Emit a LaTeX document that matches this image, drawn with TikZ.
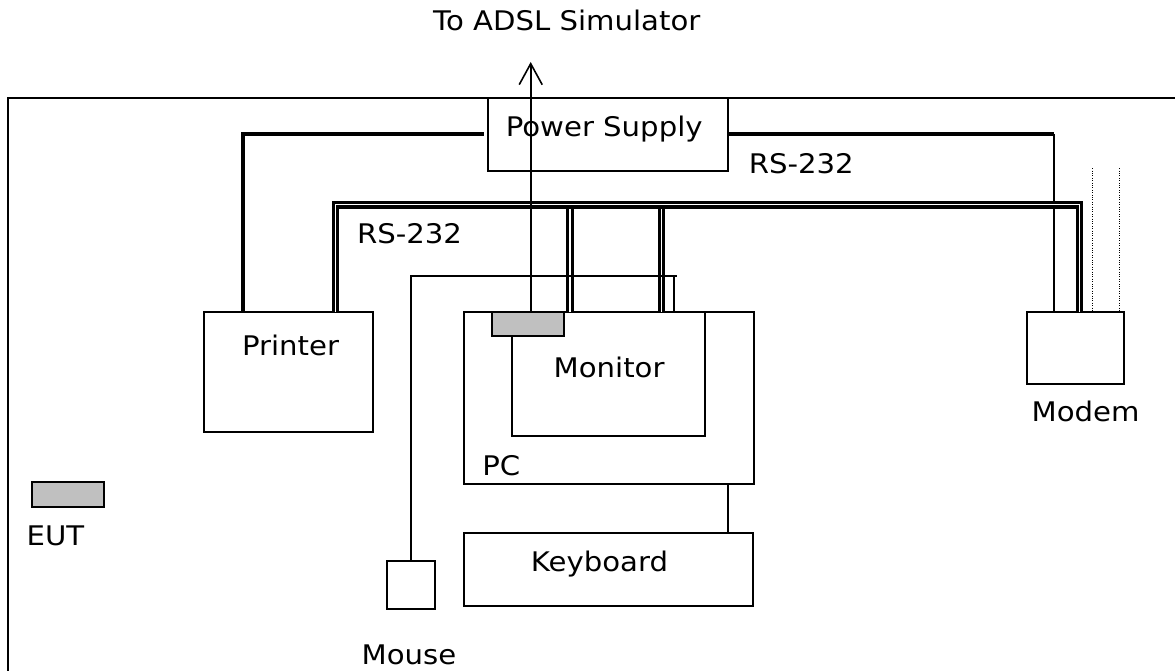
\documentclass[tikz,border=0pt]{standalone}
\usepackage{fontspec}
\newfontfamily\lbl{DejaVu Sans}[FakeStretch=1.08]
\usetikzlibrary{arrows.meta}
\definecolor{eutgrey}{RGB}{192,192,192}
\begin{document}
\begin{tikzpicture}[x=1pt,y=-1pt,
  box/.style={draw, line width=2pt, inner sep=0pt, outer sep=0pt, anchor=north west},
  lab/.style={inner sep=0pt, anchor=base west, text depth=0pt, font=\lbl\fontsize{27}{30}\selectfont},
  thincable/.style={line width=1.6pt},
  powercable/.style={line width=3.8pt},
  serialcable/.style={double, line width=3.2pt, double distance=1.4pt},
  dotcable/.style={line width=1pt, dash pattern=on 1pt off 1.4pt}]
\useasboundingbox (0,0) rectangle (1175,671);
\clip (0,0) rectangle (1175,671);
% frame
\draw[line width=2pt] (1190,97.6) -- (7.5,97.6) -- (7.5,700);
% boxes
\node[box, minimum width=240pt, minimum height=73.4pt] (ps) at (488,97.6) {};
\node[box, minimum width=168.7pt, minimum height=120pt] (printer) at (204,311.7) {};
\node[box, minimum width=289.5pt, minimum height=172pt] (pc) at (464,311.7) {};
\node[box, minimum width=192.7pt, minimum height=124pt] (monitor) at (512,311.7) {};
\node[box, minimum width=97pt, minimum height=72.3pt] (modem) at (1027,311.7) {};
\node[box, minimum width=289pt, minimum height=73.2pt] (keyboard) at (464,532.5) {};
\node[box, minimum width=48.6pt, minimum height=48.6pt] (mouse) at (386.7,560.7) {};
% coordinates
\coordinate (bus) at (0,204.7);
\coordinate (s1) at ([xshift=131.5pt]printer.north west);
\coordinate (s2) at ([xshift=106pt]pc.north west);
\coordinate (s3) at ([xshift=197.5pt]pc.north west);
\coordinate (s4) at ([xshift=52.5pt]modem.north west);
\coordinate (m1) at ([xshift=27pt]modem.north west);
\coordinate (p1) at ([xshift=38.7pt]printer.north west);
\coordinate (mcor) at (674,275.7);
\coordinate (adsl) at (530.7,62);
\coordinate (d1) at (1092.5,168.3);
\coordinate (d2) at (1119,168.3);
% power cables
\draw[powercable] ([xshift=-4.5pt]ps.west) -| (p1);
\draw[powercable] (ps.east) -- (ps.east -| m1) coordinate (m1top);
\draw[thincable] (m1top) -- (m1);
% serial cables
\draw[serialcable] (s2) -- (s2 |- bus);
\draw[serialcable] (s3) -- (s3 |- bus);
\draw[serialcable] (s1) |- (bus -| s4) -- (s4);
% mouse and keyboard cables
\draw[thincable] (mouse.north) |- ([xshift=3pt]mcor);
\draw[thincable] (mcor) -- (mcor |- pc.north);
\draw[thincable] ([xshift=264pt]pc.south west) -- ([xshift=264pt]keyboard.north west);
% dotted lines
\draw[dotcable] (d1) -- (d1 |- modem.north);
\draw[dotcable] (d2) -- (d2 |- modem.north);
% EUT boxes
\node[box, fill=eutgrey, minimum width=72.3pt, minimum height=24.3pt] (eutpc) at (491.7,311.7) {};
\node[box, fill=eutgrey, minimum width=72.6pt, minimum height=25pt] (eut) at (31.7,481.7) {};
% ADSL line
\draw[thincable, -{Straight Barb[length=21pt,width=23pt]}] (adsl |- eutpc.north) -- (adsl);
% labels
\node[lab] (tadsl) at (433,30.8) {To ADSL Simulator};
\node[lab] (tps) at (505.6,136.7) {Power Supply};
\node[lab] (trs1) at (748.6,173.3) {RS-232};
\node[lab] (trs2) at (356.8,243.3) {RS-232};
\node[lab] (tprinter) at (241.8,355) {Printer};
\node[lab] (tmonitor) at (553.5,377.3) {Monitor};
\node[lab] (tmodem) at (1031.5,421.5) {Modem};
\node[lab] (tpc) at (482.2,475) {PC};
\node[lab] (teut) at (26.5,545) {EUT};
\node[lab] (tkeyboard) at (530.7,571.7) {Keyboard};
\node[lab] (tmouse) at (361.5,664.5) {Mouse};
\end{tikzpicture}
\end{document}
